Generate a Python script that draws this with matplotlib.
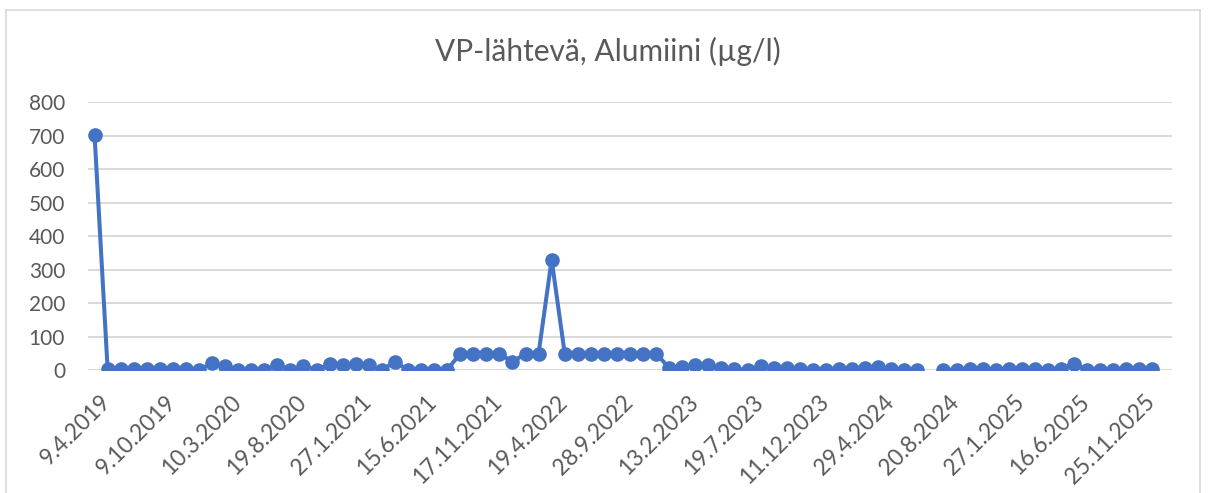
import numpy as np
import matplotlib
matplotlib.use("Agg")
import matplotlib.pyplot as plt
from matplotlib.lines import Line2D
from matplotlib.transforms import ScaledTranslation

plt.rcParams['font.family'] = ['Lato', 'DejaVu Sans']

# Aluminium readings, one per sampling (NaN = no result)
values = [703, 5, 5, 5, 5, 5, 5, 5, 1, 22,
          13, 2, 1, 2, 16, 2, 12, 2, 18, 16,
          20, 15, 1, 25, 1, 1, 1, 1, 50, 50,
          50, 50, 25, 50, 50, 330, 50, 50, 50, 50,
          50, 50, 50, 50, 7, 10, 15, 16, 7, 4,
          2, 12, 7, 7, 4, 2, 2, 4, 4, 7,
          10, 4, 2, 2, np.nan, 2, 2, 4, 4, 1,
          4, 4, 4, 2, 4, 19, 2, 2, 2, 4,
          4, 4, np.nan]

# every 5th category gets a label
tick_labels = ["9.4.2019", "9.10.2019", "10.3.2020", "19.8.2020", "27.1.2021",
               "15.6.2021", "17.11.2021", "19.4.2022", "28.9.2022", "13.2.2023",
               "19.7.2023", "11.12.2023", "29.4.2024", "20.8.2024", "27.1.2025",
               "16.6.2025", "25.11.2025"]
label_step = 5

yticks = [0, 100, 200, 300, 400, 500, 600, 700, 800]
title = "VP-lähtevä, Alumiini (µg/l)"

text_col = "#595959"
line_col = "#4472C4"
grid_col = "#D9D9D9"

W, H = 1210, 493
fig = plt.figure(figsize=(W / 100, H / 100), dpi=100)
ax = fig.add_axes([88 / W, 1 - 370.3 / H, (1172 - 88) / W, (370.3 - 102) / H])

x = np.arange(len(values))
ax.plot(x, values, color=line_col, lw=2.9, marker="o", ms=9.5,
        markerfacecolor=line_col, markeredgecolor=line_col, solid_capstyle="round",
        zorder=3)

ax.set_xlim(-0.5, len(values) - 0.5)
ax.set_ylim(0, 800)
ax.set_yticks(yticks)
ax.set_yticklabels([str(v) for v in yticks])
ax.yaxis.grid(True, color=grid_col, lw=1.4)
ax.set_axisbelow(True)

for s in ax.spines.values():
    s.set_visible(False)

ax.tick_params(axis="y", length=0, pad=16.5, labelsize=15, labelcolor=text_col)
ax.set_xticks(x[::label_step][:len(tick_labels)])
ax.set_xticklabels(tick_labels, rotation=45, ha="right", va="top",
                   rotation_mode="anchor", fontsize=16.3, color=text_col)
ax.tick_params(axis="x", length=0, pad=15)
shift = ScaledTranslation(5 / 100, 0, fig.dpi_scale_trans)
for lab in ax.get_xticklabels():
    lab.set_transform(lab.get_transform() + shift)

fig.text(608 / W, 1 - 51 / H, title, ha="center", va="center",
         fontsize=21.5, color=text_col)

# light chart border
border = dict(color=grid_col, lw=1.2, transform=fig.transFigure)
fig.add_artist(Line2D([6 / W, 1200 / W], [1 - 10 / H, 1 - 10 / H], **border))
fig.add_artist(Line2D([6 / W, 6 / W], [1 - 10 / H, 0], **border))
fig.add_artist(Line2D([1200 / W, 1200 / W], [1 - 10 / H, 0], **border))

fig.savefig("out.png", dpi=100)
